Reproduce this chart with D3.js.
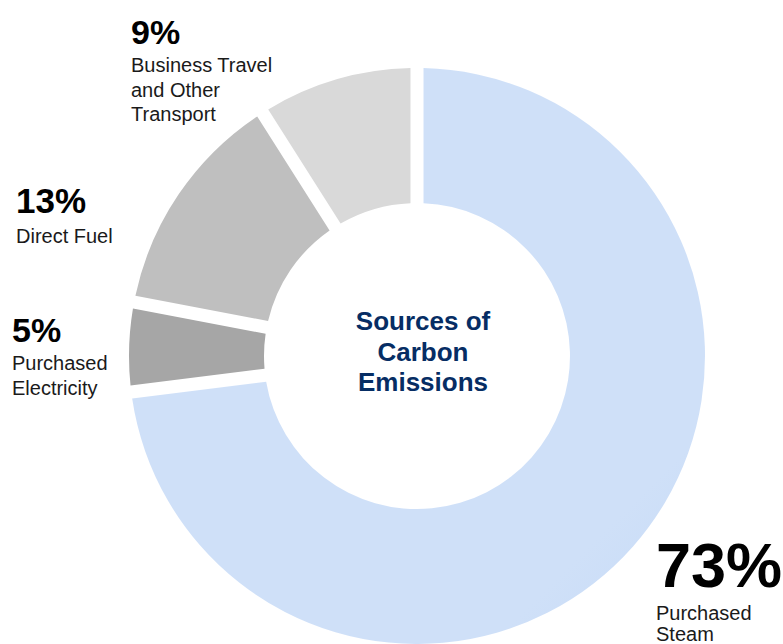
<!DOCTYPE html>
<html>
<head>
<meta charset="utf-8">
<script src="https://cdn.jsdelivr.net/npm/d3@7"></script>
<style>
  html, body { margin: 0; padding: 0; background: #fff; }
  text { font-family: "Liberation Sans", Arial, sans-serif; }
</style>
</head>
<body>
<div id="chart"></div>
<script>
// Data, clockwise from 12 o'clock
const categories = ['Purchased Steam', 'Purchased Electricity', 'Direct Fuel', 'Business Travel and Other Transport'];
const shares = [73, 5, 13, 9];
const labelLines = [['Purchased', 'Steam'], ['Purchased', 'Electricity'], ['Direct Fuel'], ['Business Travel', 'and Other', 'Transport']];
const centerLines = ['Sources of', 'Carbon', 'Emissions'];

(function main(){
  const width = 783, height = 644;
  const cx = 417, cy = 356;
  const outerR = 288, innerR = 153;

  const svg = d3.select('#chart').append('svg')
    .attr('width', width).attr('height', height)
    .attr('viewBox', `0 0 ${width} ${height}`);

  // light blue gradient for the big slice (top-left light -> bottom-right darker)
  const gd = 205;
  const grad = svg.append('defs').append('linearGradient')
    .attr('id', 'steamGrad')
    .attr('gradientUnits', 'userSpaceOnUse')
    .attr('x1', cx - gd).attr('y1', cy - gd)
    .attr('x2', cx + gd).attr('y2', cy + gd);
  grad.append('stop').attr('offset', '0%').attr('stop-color', '#cfe0f8');
  grad.append('stop').attr('offset', '100%').attr('stop-color', '#a9c8f3');

  const fills = ['url(#steamGrad)', '#a6a6a6', '#bfbfbf', '#d9d9d9'];

  const pie = d3.pie().sort(null).value(d => d.value);
  const arcs = pie(categories.map((c, i) => ({ name: c, value: shares[i], i })));

  const arc = d3.arc()
    .innerRadius(innerR)
    .outerRadius(outerR)
    .padAngle(0.04);

  const g = svg.append('g').attr('transform', `translate(${cx},${cy})`);
  g.selectAll('path.slice')
    .data(arcs)
    .enter().append('path')
    .attr('class', 'slice')
    .attr('d', arc)
    .attr('fill', d => fills[d.data.i]);

  // outside labels: x, baseline of %, pct size, baselines of name lines
  const labelPos = [
    { x: 656, y: 587, size: 63, lines: [620, 641] },
    { x: 12, y: 342, size: 34, lines: [370, 395] },
    { x: 16, y: 213, size: 35, lines: [243] },
    { x: 131, y: 44, size: 34, lines: [72, 97, 121] }
  ];

  const lab = svg.selectAll('g.lab')
    .data(arcs)
    .enter().append('g').attr('class', 'lab');

  lab.append('text')
    .attr('x', d => labelPos[d.data.i].x)
    .attr('y', d => labelPos[d.data.i].y)
    .style('font-size', d => labelPos[d.data.i].size + 'px')
    .style('font-weight', 'bold')
    .attr('fill', '#000')
    .text(d => d.data.value + '%');

  lab.each(function(d){
    const p = labelPos[d.data.i];
    d3.select(this).selectAll('text.line')
      .data(labelLines[d.data.i])
      .enter().append('text')
      .attr('class', 'line')
      .attr('x', p.x)
      .attr('y', (t, k) => p.lines[k])
      .style('font-size', '20px')
      .attr('fill', '#1a1a1a')
      .text(t => t);
  });

  // centre title
  svg.append('g').selectAll('text')
    .data(centerLines)
    .enter().append('text')
    .attr('x', 423)
    .attr('y', (t, k) => 330 + k * 30.5)
    .attr('text-anchor', 'middle')
    .style('font-size', '26px')
    .style('font-weight', 'bold')
    .attr('fill', '#062d64')
    .text(t => t);
})();
</script>
</body>
</html>
